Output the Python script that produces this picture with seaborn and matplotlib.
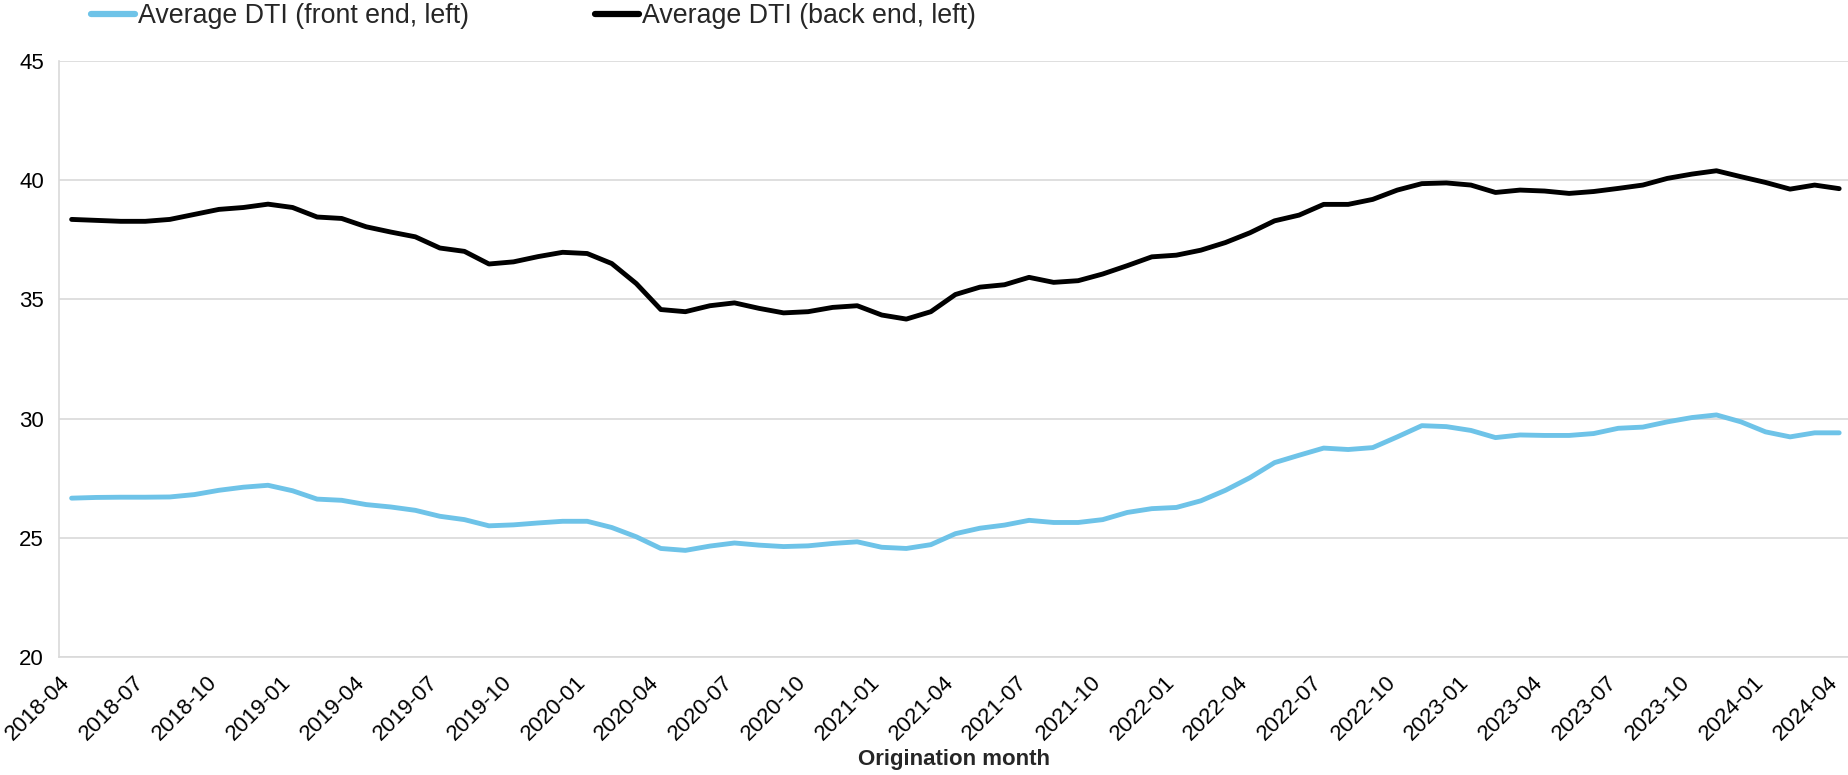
import numpy as np
import pandas as pd
import seaborn as sns
import matplotlib.pyplot as plt

sns.set_style("white")
plt.rcParams['font.family'] = ['Liberation Sans', 'DejaVu Sans']

# origination months 2018-04 .. 2024-04
months = ['2018-04', '2018-05', '2018-06', '2018-07', '2018-08', '2018-09', '2018-10', '2018-11', '2018-12',
          '2019-01', '2019-02', '2019-03', '2019-04', '2019-05', '2019-06', '2019-07', '2019-08', '2019-09',
          '2019-10', '2019-11', '2019-12', '2020-01', '2020-02', '2020-03', '2020-04', '2020-05', '2020-06',
          '2020-07', '2020-08', '2020-09', '2020-10', '2020-11', '2020-12', '2021-01', '2021-02', '2021-03',
          '2021-04', '2021-05', '2021-06', '2021-07', '2021-08', '2021-09', '2021-10', '2021-11', '2021-12',
          '2022-01', '2022-02', '2022-03', '2022-04', '2022-05', '2022-06', '2022-07', '2022-08', '2022-09',
          '2022-10', '2022-11', '2022-12', '2023-01', '2023-02', '2023-03', '2023-04', '2023-05', '2023-06',
          '2023-07', '2023-08', '2023-09', '2023-10', '2023-11', '2023-12', '2024-01', '2024-02', '2024-03',
          '2024-04']

front_end = [26.66, 26.69, 26.70, 26.70, 26.71, 26.81, 26.99, 27.12, 27.20, 26.97,
             26.62, 26.57, 26.39, 26.29, 26.15, 25.90, 25.76, 25.50, 25.54, 25.62,
             25.69, 25.69, 25.43, 25.04, 24.55, 24.47, 24.65, 24.78, 24.69, 24.63,
             24.66, 24.76, 24.83, 24.60, 24.55, 24.71, 25.17, 25.40, 25.53, 25.73,
             25.64, 25.64, 25.76, 26.06, 26.22, 26.27, 26.55, 26.99, 27.52, 28.15,
             28.46, 28.76, 28.70, 28.78, 29.23, 29.70, 29.66, 29.50, 29.20, 29.31,
             29.29, 29.29, 29.37, 29.59, 29.64, 29.86, 30.04, 30.15, 29.86, 29.44,
             29.23, 29.40, 29.40]

back_end = [38.35, 38.31, 38.27, 38.27, 38.35, 38.56, 38.77, 38.85, 38.99, 38.85,
            38.45, 38.39, 38.04, 37.82, 37.62, 37.15, 37.01, 36.48, 36.57, 36.79,
            36.97, 36.92, 36.50, 35.66, 34.57, 34.48, 34.73, 34.85, 34.62, 34.43,
            34.48, 34.66, 34.73, 34.34, 34.17, 34.48, 35.20, 35.51, 35.61, 35.92,
            35.71, 35.78, 36.06, 36.41, 36.78, 36.85, 37.06, 37.38, 37.79, 38.29,
            38.53, 38.98, 38.98, 39.19, 39.58, 39.85, 39.88, 39.79, 39.48, 39.58,
            39.54, 39.44, 39.52, 39.65, 39.79, 40.07, 40.25, 40.39, 40.14, 39.90,
            39.62, 39.79, 39.64]

tick_labels = months[::3]

front_label = 'Average DTI (front end, left)'
back_label = 'Average DTI (back end, left)'

# points sit in the middle of each month slot (Excel date axis style)
x = np.arange(len(months)) + 0.5
df = pd.DataFrame({'x': np.concatenate([x, x]),
                   'dti': front_end + back_end,
                   'series': [front_label] * len(x) + [back_label] * len(x)})

fig = plt.figure(figsize=(18.49, 7.75), dpi=100)
ax = fig.add_axes([0.0321, 0.1523, 0.9679, 0.7692])

sns.lineplot(data=df, x='x', y='dti', hue='series', ax=ax,
             palette={front_label: '#6EC3E8', back_label: '#000000'},
             linewidth=3.5, legend=False)

ax.set_xlim(0, 72.9)
ax.set_ylim(20, 45)
ax.set_yticks([20, 25, 30, 35, 40, 45])
ax.set_xticks(np.arange(0, len(months), 3))
ax.set_xticklabels(tick_labels, rotation=45, ha='right', va='top', rotation_mode='anchor')

ax.grid(axis='y', color='#D9D9D9', linewidth=1.2)
ax.grid(axis='x', visible=False)
for side in ['top', 'right']:
    ax.spines[side].set_visible(False)
for side in ['left', 'bottom']:
    ax.spines[side].set_color('#D9D9D9')
    ax.spines[side].set_linewidth(1.2)

ax.tick_params(axis='both', which='both', direction='out', length=6, width=1.2,
               color='#D9D9D9', labelsize=16, labelcolor='#000000')
ax.tick_params(axis='x', pad=5)
ax.tick_params(axis='y', pad=5)

ax.set_xlabel('Origination month', fontsize=16, fontweight='bold', labelpad=3)
ax.set_ylabel('')

handles = [plt.Line2D([], [], color='#6EC3E8', linewidth=4.5),
           plt.Line2D([], [], color='#000000', linewidth=4.5)]
fig.legend(handles, [front_label, back_label], loc='center left',
           bbox_to_anchor=(0.049, 0.979), ncol=2, frameon=False, fontsize=19.3,
           handlelength=1.65, handletextpad=0.12, columnspacing=4.7, borderaxespad=0,
           borderpad=0)

fig.savefig('out.png', dpi=100)
